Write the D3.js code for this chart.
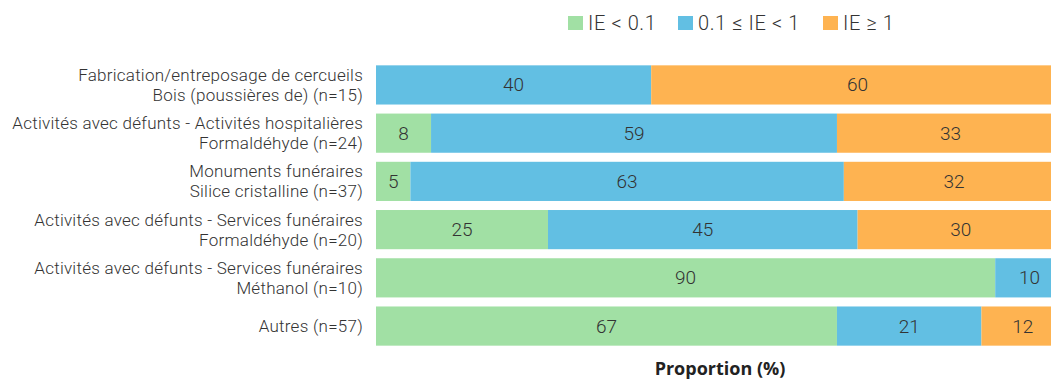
<!DOCTYPE html>
<html>
<head>
<meta charset="utf-8">
<script src="https://cdn.jsdelivr.net/npm/d3@7"></script>
<style>
  body { margin: 0; background: #fff; }
  text { font-family: Roboto, 'Open Sans', sans-serif; }
  text.axis-title { font-family: 'Open Sans', sans-serif; }
</style>
</head>
<body>
<div id="chart"></div>
<script>
// categories (two-line labels)
let categories = [
  ['Fabrication/entreposage de cercueils', 'Bois (poussières de) (n=15)'],
  ['Activités avec défunts - Activités hospitalières', 'Formaldéhyde (n=24)'],
  ['Monuments funéraires', 'Silice cristalline (n=37)'],
  ['Activités avec défunts - Services funéraires', 'Formaldéhyde (n=20)'],
  ['Activités avec défunts - Services funéraires', 'Méthanol (n=10)'],
  ['Autres (n=57)']
]
let seriesNames = ['IE < 0.1', '0.1 ≤ IE < 1', 'IE ≥ 1']
let low = [0, 8, 5, 25, 90, 67]
let mid = [40, 59, 63, 45, 10, 21]
let high = [60, 33, 32, 30, 0, 12]
let axisTitle = 'Proportion (%)'

let width = 1051
let height = 381
let margin = { top: 61, left: 376, right: -13, bottom: 31 }

let colorScale = d3.scaleOrdinal()
  .domain(seriesNames)
  .range(['#a1e0a4', '#62bfe3', '#feb351'])

let svg = d3.select('#chart')
  .append('svg')
  .attr('width', width)
  .attr('height', height)

let rows = categories.map((c, i) => ({
  key: i,
  label: c,
  [seriesNames[0]]: low[i],
  [seriesNames[1]]: mid[i],
  [seriesNames[2]]: high[i]
}))

let stacked = d3.stack().keys(seriesNames)(rows)

let xScale = d3.scaleLinear()
  .domain([0, 100])
  .range([margin.left, width - margin.right])

let yScale = d3.scaleBand()
  .domain(rows.map(d => d.key))
  .range([margin.top, height - margin.bottom])
  .paddingInner(0.1875)
  .paddingOuter(0.09)

// bars
let layers = svg.append('g')
  .selectAll('g')
  .data(stacked)
  .enter().append('g')
  .attr('fill', d => colorScale(d.key))

layers.selectAll('rect')
  .data(d => d.filter(s => s[1] - s[0] > 0))
  .enter().append('rect')
  .attr('x', d => xScale(d[0]))
  .attr('y', d => yScale(d.data.key))
  .attr('width', d => xScale(d[1]) - xScale(d[0]))
  .attr('height', yScale.bandwidth())

layers.selectAll('text')
  .data(d => d.filter(s => s[1] - s[0] > 0))
  .enter().append('text')
  .attr('x', d => (xScale(d[0]) + xScale(d[1])) / 2)
  .attr('y', d => yScale(d.data.key) + yScale.bandwidth() / 2)
  .attr('text-anchor', 'middle')
  .attr('dominant-baseline', 'central')
  .attr('font-size', 19)
  .attr('font-weight', 300)
  .attr('fill', '#333')
  .text(d => d[1] - d[0])

// category labels
let labels = svg.append('g')
  .selectAll('text')
  .data(rows)
  .enter().append('text')
  .attr('text-anchor', 'end')
  .attr('font-size', 17)
  .attr('font-weight', 300)
  .attr('letter-spacing', 0.25)
  .attr('fill', '#333')
  .attr('transform', d => `translate(${margin.left - 13},${yScale(d.key) + yScale.bandwidth() / 2})`)

labels.selectAll('tspan')
  .data(d => d.label.map((t, i) => ({ t, i, n: d.label.length })))
  .enter().append('tspan')
  .attr('x', 0)
  .attr('y', d => (d.i - (d.n - 1) / 2) * 20)
  .attr('dominant-baseline', 'central')
  .text(d => d.t)

// axis title
svg.append('text')
  .attr('class', 'axis-title')
  .attr('x', (xScale(0) + xScale(100)) / 2)
  .attr('y', 375)
  .attr('text-anchor', 'middle')
  .attr('font-size', 18)
  .attr('font-weight', 'bold')
  .attr('fill', '#222')
  .text(axisTitle)

// legend
let legendX = [568, 678, 823]
let legend = svg.append('g')
legend.selectAll('g')
  .data(seriesNames)
  .enter().append('g')
  .attr('transform', (d, i) => `translate(${legendX[i]},16)`)
  .each(function(d) {
    let g = d3.select(this)
    g.append('rect').attr('width', 15).attr('height', 14).attr('fill', colorScale(d))
    g.append('text')
      .attr('x', 20)
      .attr('y', 7)
      .attr('dominant-baseline', 'central')
      .attr('font-size', 20)
      .attr('font-weight', 300)
      .attr('letter-spacing', 0.6)
      .attr('fill', '#333')
      .text(d)
  })
</script>
</body>
</html>
